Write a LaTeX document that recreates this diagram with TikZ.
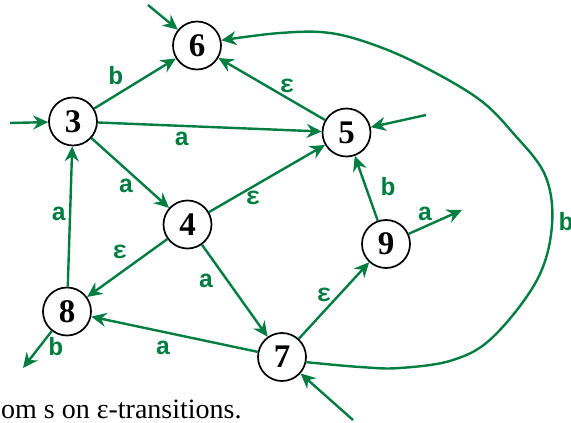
\documentclass[tikz,border=0pt]{standalone}
\usepackage{fontspec}
\setmainfont{Liberation Serif}
\newfontfamily\labfont{Liberation Mono}
\usetikzlibrary{arrows.meta}
\definecolor{fsmgreen}{RGB}{0,125,65}
\tikzset{
  st/.style={circle,draw=black,line width=1.7pt,minimum size=48pt,inner sep=0pt,fill=white,font=\fontsize{33}{34}\selectfont\bfseries},
  e/.style={draw=fsmgreen,line width=2.4pt,-{Stealth[length=15pt,width=14pt,inset=5pt]}},
  lab/.style={text=fsmgreen,font=\fontsize{25}{26}\selectfont\labfont\bfseries,inner sep=0pt}
}
\begin{document}
\begin{tikzpicture}[x=1pt,y=-1pt]
\useasboundingbox (0,0) rectangle (571,423);
% states
\node[st] (n6) at (197,45.5) {6};
\node[st] (n3) at (73,121.5) {3};
\node[st] (n5) at (346.5,132.5) {5};
\node[st] (n4) at (187.5,224.5) {4};
\node[st] (n9) at (386,244) {9};
\node[st] (n8) at (67,311.5) {8};
\node[st] (n7) at (282,357) {7};
% free ends
\coordinate (in6) at (148,5);
\coordinate (in3) at (10,123);
\coordinate (in5) at (426,115);
\coordinate (in7) at (353,420);
\coordinate (out9) at (462,210);
\coordinate (out8) at (23,368);
% edges
\draw[e] (in6) -- (n6);
\draw[e] (in3) -- (n3);
\draw[e] (in5) -- (n5);
\draw[e] (in7) -- (n7);
\draw[e] (n3) -- (n6);
\draw[e] (n3) -- (n5);
\draw[e] (n5) -- (n6);
\draw[e] (n3) -- (n4);
\draw[e] (n4) -- (n5);
\draw[e] (n4) -- (n8);
\draw[e] (n8) -- (n3);
\draw[e] (n4) -- (n7);
\draw[e] (n7) -- (n8);
\draw[e] (n7) -- (n9);
\draw[e] (n9) -- (n5);
\draw[e] (n9) -- (out9);
\draw[e] (n8) -- (out8);
\draw[e] plot[smooth,tension=0.6] coordinates {(n7.-12) (360,367) (400,368) (453,360) (493,337) (537,280) (552,225) (545,175) (513,133) (480,100) (430,70) (380,47) (330,33) (280,33) (n6.12)};
% labels
\node[lab] (l1) at (116,76) {b};
\node[lab] (l2) at (182,139) {a};
\node[lab] (l3) at (287,86) {ε};
\node[lab] (l4) at (126,186) {a};
\node[lab] (l5) at (253,198) {ε};
\node[lab] (l6) at (120,252) {ε};
\node[lab] (l7) at (59,214) {a};
\node[lab] (l8) at (206,281) {a};
\node[lab] (l9) at (163,348) {a};
\node[lab] (l10) at (324,295) {ε};
\node[lab] (l11) at (388,187) {b};
\node[lab] (l12) at (425,214) {a};
\node[lab] (l13) at (56,347) {b};
\node[lab] (l14) at (566,222) {b};
% caption
\node[anchor=base west,inner sep=0pt,font=\fontsize{28}{30}\selectfont] (cap) at (1,418) {om s on ε-transitions.};
\end{tikzpicture}
\end{document}
